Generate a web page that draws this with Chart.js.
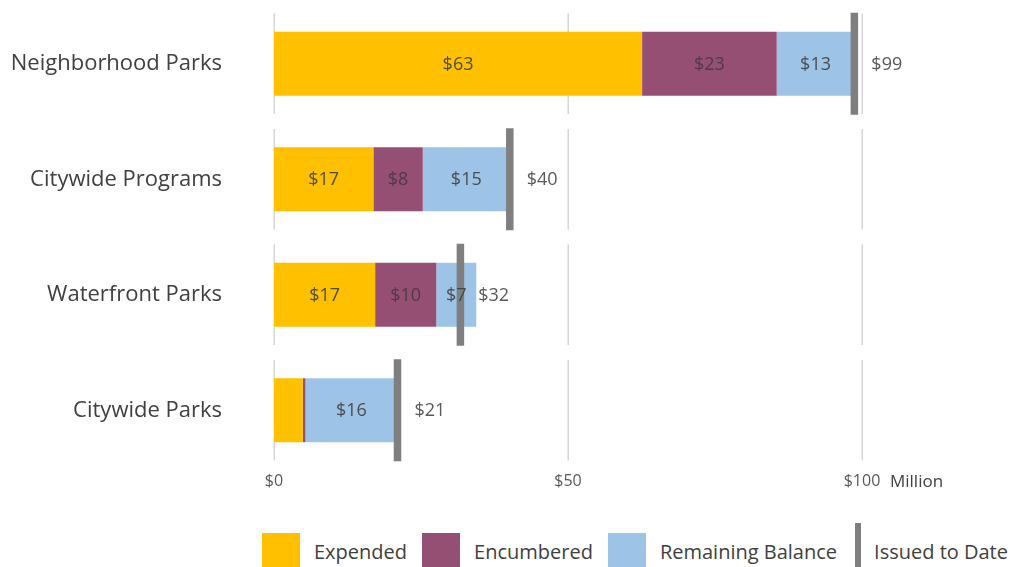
<!DOCTYPE html>
<html>
<head>
<meta charset="utf-8">
<script src="https://cdn.jsdelivr.net/npm/chart.js@4/dist/chart.umd.min.js"></script>
<style>
  html, body { margin: 0; padding: 0; background: #ffffff; overflow: hidden; }
  body { width: 1010px; height: 567px; position: relative; font-family: "Open Sans", "Noto Sans", sans-serif; }
  #wrap { position: absolute; left: 0; top: 0; width: 1010px; height: 500px; }
  #legend { position: absolute; left: 262px; top: 533px; height: 40px; display: flex; align-items: flex-start; white-space: nowrap; }
  .item { display: flex; align-items: flex-start; margin-right: 15px; }
  .box { width: 38px; height: 40px; margin-right: 14px; }
  .linebox { width: 6px; height: 50px; margin-top: -10px; margin-left: 3px; margin-right: 13px; }
  .txt { font-size: 20px; color: #404040; line-height: 38px; }
</style>
</head>
<body>
<div id="wrap"><canvas id="c"></canvas></div>
<div id="legend"></div>
<script>
const categories = ['Neighborhood Parks', 'Citywide Programs', 'Waterfront Parks', 'Citywide Parks'];
const expended = [62.6, 16.9, 17.2, 4.9];
const encumbered = [22.9, 8.4, 10.4, 0.45];
const remaining = [13.2, 14.8, 6.8, 15.65];
const issuedToDate = [98.7, 40.1, 31.7, 21.0];
const xTicks = [0, 50, 100];
const seriesNames = ['Expended', 'Encumbered', 'Remaining Balance', 'Issued to Date'];

const COLORS = { exp: '#FFC000', enc: '#954F72', rem: '#9DC3E6', issued: '#7F7F7F' };
const FONT = '"Open Sans", "Noto Sans", sans-serif';

const segGrid = {
  id: 'segGrid',
  beforeDatasetsDraw(chart) {
    const xs = chart.scales.x, ys = chart.scales.y, ctx = chart.ctx;
    const band = ys.getPixelForValue(1) - ys.getPixelForValue(0);
    const half = band * 0.435;
    ctx.save();
    ctx.strokeStyle = '#d6d6d6';
    ctx.lineWidth = 1.5;
    xTicks.forEach(t => {
      const px = Math.round(xs.getPixelForValue(t)) + 0.25;
      categories.forEach((c, i) => {
        const yc = ys.getPixelForValue(i);
        ctx.beginPath();
        ctx.moveTo(px, yc - half);
        ctx.lineTo(px, yc + half);
        ctx.stroke();
      });
    });
    ctx.restore();
  }
};

const labelsPlugin = {
  id: 'labelsPlugin',
  afterDatasetsDraw(chart) {
    const ctx = chart.ctx, xs = chart.scales.x, ys = chart.scales.y;
    ctx.save();
    ctx.textBaseline = 'middle';
    ctx.font = '18px ' + FONT;
    ctx.textAlign = 'center';
    [0, 1, 2].forEach(di => {
      const meta = chart.getDatasetMeta(di);
      const vals = chart.data.datasets[di].data;
      meta.data.forEach((el, i) => {
        const v = vals[i];
        if (v < 6) return;
        const p = el.getProps(['x', 'base', 'y'], true);
        ctx.fillStyle = di === 1 ? 'rgba(60,50,58,0.75)' : 'rgba(64,64,64,0.9)';
        ctx.fillText('$' + Math.round(v), (p.x + p.base) / 2, p.y + 1);
      });
    });
    ctx.textAlign = 'left';
    ctx.fillStyle = '#595959';
    categories.forEach((c, i) => {
      const mk = xs.getPixelForValue(issuedToDate[i]);
      const end = xs.getPixelForValue(expended[i] + encumbered[i] + remaining[i]);
      const x = Math.max(mk + 17, end + 2);
      ctx.fillText('$' + Math.round(issuedToDate[i]), x, ys.getPixelForValue(i) + 1);
    });
    ctx.font = '17px ' + FONT;
    ctx.fillStyle = '#404040';
    ctx.fillText('Million', xs.getPixelForValue(xTicks[xTicks.length - 1]) + 28, xs.top + 14);
    ctx.restore();
  }
};

const chart = new Chart(document.getElementById('c'), {
  type: 'bar',
  data: {
    labels: categories,
    datasets: [
      { label: seriesNames[0], data: expended, backgroundColor: COLORS.exp, stack: 'bars', order: 2 },
      { label: seriesNames[1], data: encumbered, backgroundColor: COLORS.enc, stack: 'bars', order: 2 },
      { label: seriesNames[2], data: remaining, backgroundColor: COLORS.rem, stack: 'bars', order: 2 },
      {
        type: 'line', label: seriesNames[3], data: issuedToDate, indexAxis: 'y', stack: 'issued', order: 0,
        showLine: false, borderColor: COLORS.issued, backgroundColor: COLORS.issued,
        pointStyle: 'line', pointRotation: 90, pointRadius: 51, pointHoverRadius: 51,
        pointBorderWidth: 7.5, pointHoverBorderWidth: 7.5, pointBorderColor: COLORS.issued,
        clip: false
      }
    ]
  },
  options: {
    indexAxis: 'y',
    responsive: true,
    maintainAspectRatio: false,
    animation: false,
    layout: { autoPadding: false, padding: { left: 0, right: 148, top: 6, bottom: 0 } },
    datasets: { bar: { categoryPercentage: 1, barPercentage: 0.553 } },
    plugins: { legend: { display: false }, tooltip: { enabled: false } },
    scales: {
      x: {
        stacked: true, min: 0, max: 100,
        afterBuildTicks(scale) { scale.ticks = xTicks.map(v => ({ value: v })); },
        grid: { display: false, drawTicks: false },
        border: { display: false },
        ticks: { padding: 4, color: '#595959', font: { family: FONT, size: 16 }, callback: v => '$' + v, maxRotation: 0 },
        afterFit(scale) { scale.height = 32; scale.paddingLeft = 0; scale.paddingRight = 0; }
      },
      y: {
        stacked: true,
        grid: { display: false, drawTicks: false },
        border: { display: false },
        ticks: { padding: 52, color: '#404040', font: { family: FONT, size: 22 } },
        afterFit(scale) { scale.width = 274; scale.paddingTop = 0; scale.paddingBottom = 0; }
      }
    }
  },
  plugins: [segGrid, labelsPlugin]
});

const legendEl = document.getElementById('legend');
chart.data.datasets.forEach(ds => {
  const item = document.createElement('div');
  item.className = 'item';
  const sw = document.createElement('div');
  sw.className = ds.type === 'line' ? 'linebox' : 'box';
  sw.style.background = ds.type === 'line' ? ds.borderColor : ds.backgroundColor;
  const t = document.createElement('span');
  t.className = 'txt';
  t.textContent = ds.label;
  item.appendChild(sw);
  item.appendChild(t);
  legendEl.appendChild(item);
});
</script>
</body>
</html>
